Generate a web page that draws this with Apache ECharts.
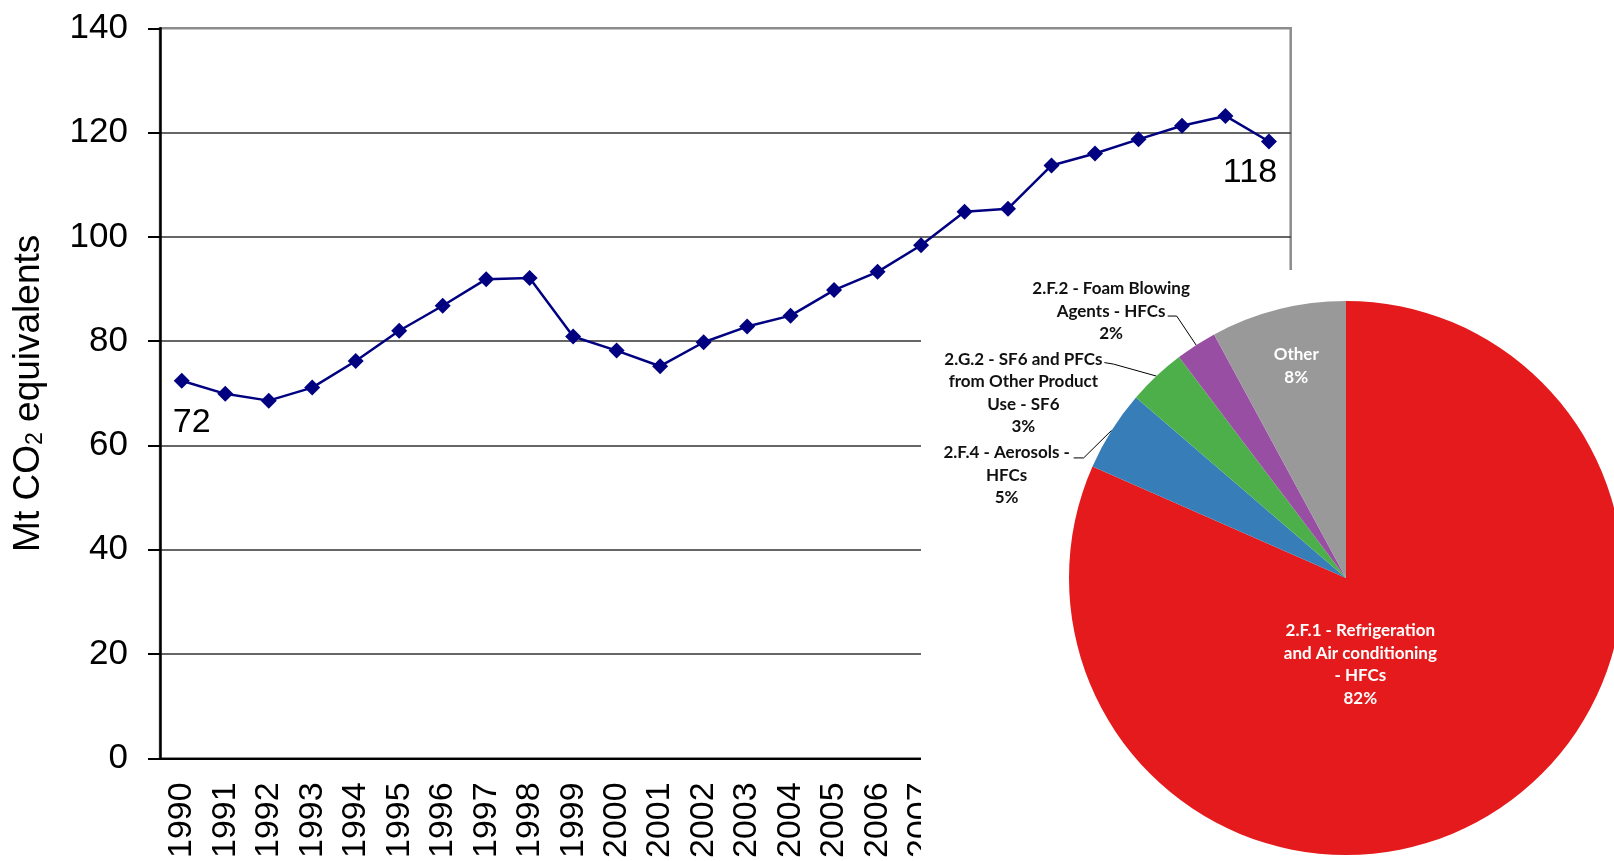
<!DOCTYPE html>
<html>
<head>
<meta charset="utf-8">
<script src="https://cdn.jsdelivr.net/npm/echarts@6/dist/echarts.min.js"></script>
<style>
html, body { margin: 0; padding: 0; background: #fff; }
#line { position: absolute; left: 0; top: 0; width: 1614px; height: 861px; }
#pie { position: absolute; left: 921px; top: 270px; width: 693px; height: 591px; background: #fff; }
</style>
</head>
<body>
<div id="line"></div>
<div id="pie"></div>
<script>
// F-gas emissions, Mt CO2 eq
const years = ['1990', '1991', '1992', '1993', '1994', '1995', '1996', '1997', '1998', '1999',
  '2000', '2001', '2002', '2003', '2004', '2005', '2006', '2007', '2008', '2009',
  '2010', '2011', '2012', '2013', '2014', '2015'];
const emissions = [72.4, 69.9, 68.6, 71.1, 76.2, 82.0, 86.8, 91.9, 92.1, 80.9,
  78.2, 75.2, 79.8, 82.8, 84.9, 89.8, 93.3, 98.4, 104.8, 105.4,
  113.7, 116.0, 118.7, 121.3, 123.2, 118.3];

// share by source, %
const sourceNames = [
  '2.F.1 - Refrigeration\nand Air conditioning\n- HFCs',
  '2.F.4 - Aerosols -\nHFCs',
  '2.G.2 - SF6 and PFCs\nfrom Other Product\nUse - SF6',
  '2.F.2 - Foam Blowing\nAgents - HFCs',
  'Other'
];
const sourceShares = [81.6, 4.7, 3.4, 2.4, 7.9];
const sourceColors = ['#e41a1c', '#377eb8', '#4daf4a', '#984ea3', '#999999'];

const axisFont = 'Liberation Sans, Arial, sans-serif';

// label placement, relative to what echarts computes
const endLabels = {
  0: { distance: 17, offset: [10, 0] },
  25: { distance: 6, offset: [-19, 0] }
};
const pieLabelPlace = [
  { dx: -63, dy: -32 },
  { text: [-105, 45], line: [[-28, 27.6], [-38, 27.6]] },
  { text: [-133, 17], line: [[-43, -12], [-52, -13.5]] },
  { text: [-85, -34], line: [[-19.4, -29], [-28.4, -29]] },
  { dx: -15, dy: -75 }
];

const lineChart = echarts.init(document.getElementById('line'));
lineChart.setOption({
  animation: false,
  grid: {
    left: 160, top: 28.3, right: 323.3, bottom: 101,
    show: true, borderColor: '#8c8c8c', borderWidth: 2.5
  },
  xAxis: {
    type: 'category',
    data: years,
    axisLine: { lineStyle: { color: '#000', width: 2 } },
    axisTick: { length: 11, lineStyle: { color: '#000', width: 2 } },
    axisLabel: {
      interval: 0, rotate: 90, margin: 24,
      fontSize: 34, fontFamily: axisFont, color: '#000'
    }
  },
  yAxis: {
    type: 'value',
    min: 0, max: 140, interval: 20,
    name: 'Mt CO{sub|2} equivalents',
    nameLocation: 'middle',
    nameGap: 113,
    nameTextStyle: {
      fontSize: 37, fontFamily: axisFont, color: '#000',
      rich: { sub: { fontSize: 23, verticalAlign: 'bottom', padding: [10, 0, 0, 0] } }
    },
    axisLine: { show: true, lineStyle: { color: '#000', width: 2.5 } },
    axisTick: { show: true, length: 12, lineStyle: { color: '#000', width: 2 } },
    axisLabel: { margin: 32, fontSize: 35, fontFamily: axisFont, color: '#000' },
    splitLine: { showMaxLine: false, lineStyle: { color: '#333', width: 1.5 } }
  },
  series: [{
    type: 'line',
    data: emissions.map((v, i) => {
      const lab = endLabels[i];
      if (!lab) return v;
      return {
        value: v,
        label: {
          show: true, position: 'bottom', distance: lab.distance, offset: lab.offset,
          fontSize: 34, fontFamily: axisFont, color: '#000',
          formatter: (p) => Math.round(p.value)
        }
      };
    }),
    color: '#000080',
    lineStyle: { width: 2.5, color: '#000080' },
    symbol: 'diamond',
    symbolSize: 16,
    itemStyle: { color: '#000080' }
  }]
});

const pieChart = echarts.init(document.getElementById('pie'));
pieChart.setOption({
  animation: false,
  series: [{
    type: 'pie',
    center: [425, 308],
    radius: 277,
    startAngle: 90,
    clockwise: true,
    avoidLabelOverlap: false,
    label: {
      position: 'outside',
      fontFamily: 'Lato, sans-serif',
      fontWeight: 'bold',
      fontSize: 17,
      lineHeight: 22.5,
      color: '#111',
      formatter: (p) => p.name + '\n' + Math.round(p.percent) + '%'
    },
    labelLine: { show: true, length: 20, length2: 10, lineStyle: { color: '#000', width: 1 } },
    labelLayout: (params) => {
      const c = pieLabelPlace[params.dataIndex];
      if (c.text && params.labelLinePoints) {
        const p = params.labelLinePoints[0];
        return {
          x: p[0] + c.text[0],
          y: p[1] + c.text[1],
          align: 'center',
          verticalAlign: 'middle',
          labelLinePoints: [[p[0], p[1]]].concat(c.line.map((d) => [p[0] + d[0], p[1] + d[1]]))
        };
      }
      return { dx: c.dx || 0, dy: c.dy || 0 };
    },
    data: sourceNames.map((name, i) => {
      const item = { name: name, value: sourceShares[i], itemStyle: { color: sourceColors[i] } };
      if (i === 0 || i === sourceNames.length - 1) {
        item.label = { position: 'inside', color: '#fff' };
        item.labelLine = { show: false };
      }
      return item;
    }),
    emphasis: { disabled: true }
  }]
});
</script>
</body>
</html>
